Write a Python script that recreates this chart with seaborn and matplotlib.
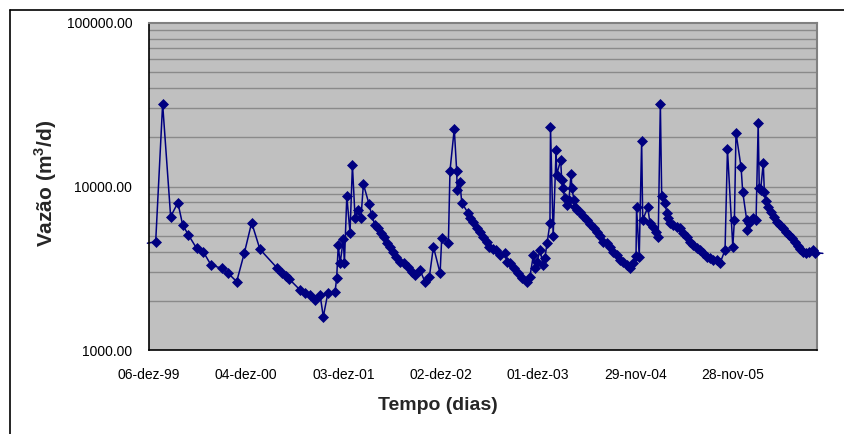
import numpy as np
import pandas as pd
import matplotlib
matplotlib.use("Agg")
import matplotlib.pyplot as plt
from matplotlib.lines import Line2D
from matplotlib.ticker import FixedLocator, FixedFormatter, NullFormatter
import seaborn as sns

# ---------------- data ----------------
start_date = "1999-12-06"
# days since 06-dez-99
dias = [-6, 25, 51, 81, 108, 126, 147, 178, 203, 232, 272, 294, 328, 357, 384, 415,
        478, 496, 511, 525, 565, 584, 602, 621, 640, 652, 669, 696, 702, 708, 715,
        727, 731, 740, 752, 761, 771, 781, 793, 802, 823, 833, 845, 857, 868, 879,
        890, 902, 913, 924, 939, 954, 969, 984, 995, 1014, 1032, 1049, 1064, 1089,
        1095, 1120, 1126, 1142, 1151, 1153, 1163, 1170, 1194, 1201, 1213, 1226,
        1238, 1251, 1263, 1273, 1287, 1298, 1313, 1332, 1339, 1350, 1365, 1380,
        1395, 1413, 1425, 1438, 1444, 1452, 1463, 1474, 1481, 1489, 1500, 1502,
        1512, 1523, 1525, 1540, 1544, 1549, 1556, 1564, 1571, 1579, 1582, 1590,
        1594, 1601, 1612, 1624, 1639, 1650, 1665, 1676, 1687, 1698, 1713, 1725,
        1736, 1751, 1762, 1773, 1788, 1800, 1811, 1822, 1824, 1834, 1843, 1847,
        1866, 1874, 1885, 1897, 1905, 1913, 1918, 1930, 1938, 1943, 1949, 1960,
        1975, 1986, 1998, 2013, 2024, 2035, 2050, 2061, 2073, 2087, 2099, 2110,
        2125, 2136, 2155, 2164, 2184, 2190, 2196, 2215, 2221, 2236, 2238, 2246,
        2258, 2271, 2279, 2283, 2288, 2298, 2302, 2308, 2316, 2327, 2338, 2349,
        2361, 2372, 2383, 2394, 2405, 2417, 2428, 2435, 2447, 2458, 2469, 2485,
        2491, 2521]
vazao = [4500, 4590, 32000, 6540, 7960, 5820, 5070, 4190, 3990, 3310, 3160, 2970,
         2620, 3940, 6010, 4130, 3190, 2970, 2840, 2710, 2330, 2220, 2170, 2020,
         2170, 1600, 2220, 2270, 2740, 4390, 3390, 4750, 3390, 8740, 5220, 13500,
         6390, 7180, 6390, 10350, 7820, 6690, 5820, 5550, 5170, 4930, 4500, 4280,
         3990, 3720, 3470, 3390, 3230, 3010, 2880, 3080, 2620, 2810, 4280, 2950,
         4820, 4530, 12500, 22500, 12500, 9530, 10700, 7960, 6860, 6390, 6090,
         5550, 5300, 4930, 4590, 4280, 4150, 4090, 3810, 3900, 3470, 3390, 3160,
         2950, 2740, 2620, 2810, 3810, 3160, 3470, 4090, 3310, 3640, 4500, 5960,
         23200, 4980, 16700, 11800, 14500, 10950, 9750, 8470, 7700, 8270, 12000,
         9750, 8270, 7450, 7180, 7000, 6600, 6240, 5900, 5600, 5250, 4980, 4600,
         4500, 4280, 3990, 3810, 3550, 3470, 3310, 3160, 3390, 3760, 7460, 3720,
         19100, 6240, 7460, 5960, 5680, 5300, 4930, 32000, 8740, 7890, 6860, 6390,
         5960, 5820, 5680, 5550, 5170, 4930, 4590, 4390, 4190, 4090, 3900, 3720,
         3640, 3550, 3550, 3390, 4090, 16900, 4280, 6240, 21300, 13100, 9300, 6240,
         5420, 5960, 6390, 6240, 24400, 9750, 9530, 13900, 9300, 8100, 7520, 7010,
         6540, 6090, 5820, 5550, 5300, 5050, 4820, 4590, 4330, 4130, 3990, 3940,
         3990, 4090, 3940, 3900]
tick_dates = ["1999-12-06", "2000-12-04", "2001-12-03", "2002-12-02",
              "2003-12-01", "2004-11-29", "2005-11-28"]
tick_labels = ["06-dez-99", "04-dez-00", "03-dez-01", "02-dez-02",
               "01-dez-03", "29-nov-04", "28-nov-05"]
y_major = [1000, 10000, 100000]
y_major_labels = ["1000.00", "10000.00", "100000.00"]
x_end_days = 2499
xlabel_text = "Tempo (dias)"
ylabel_text = r"Vazão (m$^{\mathbf{3}}$/d)"

# ---------------- figure ----------------
sns.set_style("white")
plt.rcParams["font.family"] = ["Liberation Sans", "DejaVu Sans"]
plt.rcParams["mathtext.fontset"] = "custom"
plt.rcParams["mathtext.bf"] = "Liberation Sans:bold"
plt.rcParams["mathtext.rm"] = "Liberation Sans"

fig = plt.figure(figsize=(8.44, 4.34), dpi=100)
W, H = 844, 434
ax = fig.add_axes([149 / W, 1 - 350 / H, (817 - 149) / W, (350 - 23) / H])

t0 = pd.Timestamp(start_date)
df = pd.DataFrame({"data": t0 + pd.to_timedelta(dias, unit="D"), "vazao": vazao})

navy = "#000080"
sns.lineplot(data=df, x="data", y="vazao", ax=ax, color=navy, linewidth=1.1,
             estimator=None, sort=False, legend=False)
line = ax.lines[-1]
line.set_clip_on(False)
mdf = df.iloc[1:-1]
ax.plot(mdf["data"], mdf["vazao"], linestyle="none", marker="D", markersize=4.6,
        color=navy, markeredgewidth=0.5, markeredgecolor=navy, clip_on=False, zorder=3)

ax.set_yscale("log")
ax.set_ylim(1000, 100000)
ax.set_xlim(t0, t0 + pd.Timedelta(days=x_end_days))
ax.set_facecolor("#C0C0C0")

ax.yaxis.set_major_locator(FixedLocator(y_major))
ax.yaxis.set_major_formatter(FixedFormatter(y_major_labels))
minor = [m * d for d in (1000, 10000) for m in range(2, 10)]
ax.yaxis.set_minor_locator(FixedLocator(minor))
ax.yaxis.set_minor_formatter(NullFormatter())
for v in minor + [10000]:
    ax.axhline(v, color="#8a8a8a", linewidth=1.0, zorder=1)

ax.set_xticks(pd.to_datetime(tick_dates))
ax.set_xticklabels(tick_labels)

ax.tick_params(axis="both", which="major", direction="out", length=5, width=1,
               color="black", labelsize=10, labelcolor="black")
ax.tick_params(axis="y", which="major", pad=7)
ax.tick_params(axis="x", which="major", pad=8)
ax.tick_params(axis="y", which="minor", length=0)

for side in ("left", "bottom"):
    ax.spines[side].set_color("black")
    ax.spines[side].set_linewidth(1.2)
for side in ("top", "right"):
    ax.spines[side].set_visible(True)
    ax.spines[side].set_color("#808080")
    ax.spines[side].set_linewidth(1.5)

ax.set_xlabel("")
ax.set_ylabel("")
fig.text(438 / W, 1 - 406 / H, xlabel_text, fontsize=14, fontweight="bold",
         ha="center", va="center")
fig.text(46 / W, 1 - 183 / H, ylabel_text, fontsize=15, fontweight="bold",
         ha="center", va="center", rotation=90)

# chart-area frame (top and left edges visible)
fig.add_artist(Line2D([10 / W, 10 / W], [0, 1 - 10 / H], transform=fig.transFigure,
                      color="black", linewidth=1.2))
fig.add_artist(Line2D([10 / W, 1], [1 - 10 / H, 1 - 10 / H], transform=fig.transFigure,
                      color="black", linewidth=1.2))

fig.savefig("out.png", dpi=100)
